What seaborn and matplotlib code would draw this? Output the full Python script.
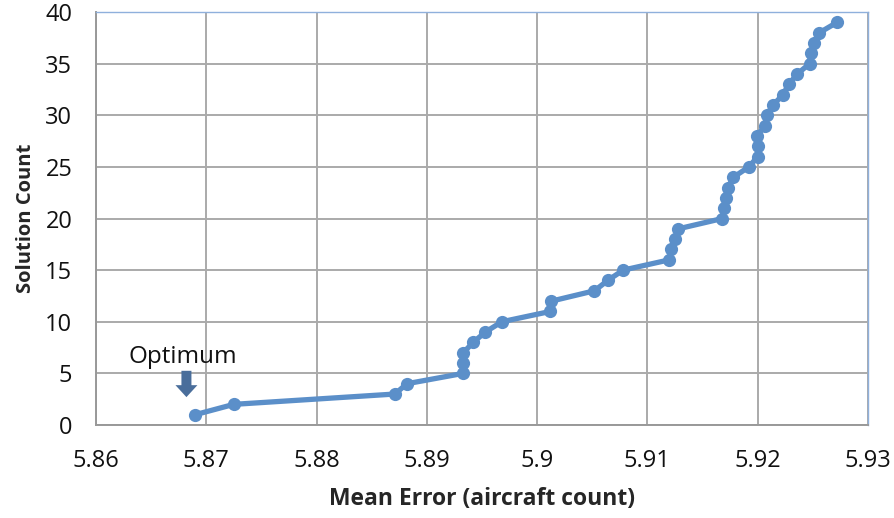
import matplotlib
matplotlib.use("Agg")
import matplotlib.pyplot as plt
import seaborn as sns
import pandas as pd

# mean error per solution
mean_error = [
    5.8690, 5.8725, 5.8871, 5.8882, 5.8933, 5.8933, 5.8933, 5.8942, 5.8953, 5.8968,
    5.9012, 5.9013, 5.9052, 5.9064, 5.9078, 5.9120, 5.9121, 5.9125, 5.9128, 5.9168,
    5.9169, 5.9171, 5.9173, 5.9178, 5.9192, 5.9200, 5.9200, 5.9199, 5.9207, 5.9208,
    5.9214, 5.9223, 5.9228, 5.9236, 5.9247, 5.9248, 5.9251, 5.9256, 5.9272,
]
solution_count = list(range(1, len(mean_error) + 1))

x_ticks = [5.86, 5.87, 5.88, 5.89, 5.90, 5.91, 5.92, 5.93]
x_tick_labels = ["5.86", "5.87", "5.88", "5.89", "5.9", "5.91", "5.92", "5.93"]
y_ticks = [0, 5, 10, 15, 20, 25, 30, 35, 40]

df = pd.DataFrame({"Mean Error": mean_error, "Solution Count": solution_count})

sns.set_style("white")
plt.rcParams["font.family"] = ["Open Sans", "DejaVu Sans"]

fig = plt.figure(figsize=(8.94, 5.18), dpi=100)
ax = fig.add_axes([96 / 894, 1 - 425 / 518, 772 / 894, 413 / 518])

# estimator=None so repeated x values are not averaged together
sns.lineplot(data=df, x="Mean Error", y="Solution Count", sort=False, estimator=None,
             ax=ax, color="#5b8fc9", linewidth=3.8, marker="o", markersize=9.5,
             markeredgewidth=0, zorder=3)

ax.set_xlim(5.86, 5.93)
ax.set_ylim(0, 40)
ax.set_xticks(x_ticks)
ax.set_xticklabels(x_tick_labels)
ax.set_yticks(y_ticks)
ax.grid(True, color="#aaaaaa", linewidth=1.4)
ax.set_axisbelow(True)
ax.tick_params(axis="both", labelsize=17, length=0, colors="#111111")
ax.tick_params(axis="x", pad=17)
ax.tick_params(axis="y", pad=17)

for side in ["left", "bottom"]:
    ax.spines[side].set_color("#999999")
    ax.spines[side].set_linewidth(1.4)
for side in ["top", "right"]:
    ax.spines[side].set_color("#8fb0dc")
    ax.spines[side].set_linewidth(1.0)

ax.set_xlabel("Mean Error (aircraft count)", fontsize=16.5, fontweight="bold", labelpad=10)
ax.set_ylabel("Solution Count", fontsize=14.5, fontweight="bold", labelpad=7)

# "Optimum" marker
ax.annotate("", xy=(5.8682, 2.7), xytext=(5.8682, 5.25),
            arrowprops=dict(arrowstyle="simple,head_length=0.86,head_width=1.58,tail_width=0.72",
                            color="#4a6e9b", lw=0, mutation_scale=10,
                            shrinkA=0, shrinkB=0))
ax.text(5.8679, 5.45, "Optimum", fontsize=17.5, ha="center", va="bottom", color="#111111")

fig.savefig("out.png", dpi=100)
